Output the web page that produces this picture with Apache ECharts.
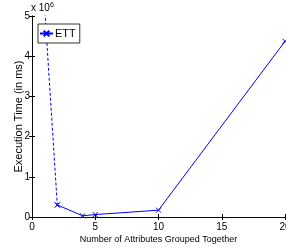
<!DOCTYPE html>
<html>
<head>
<meta charset="utf-8">
<script src="https://cdn.jsdelivr.net/npm/echarts@6/dist/echarts.min.js"></script>
<style>
  html, body { margin: 0; padding: 0; background: #fff; }
  #chart { width: 286px; height: 248px; }
</style>
</head>
<body>
<div id="chart"></div>
<script>
// attributes grouped together vs execution time (ms)
var dashedX = [1, 2];
var dashedY = [5200000, 300000];
var solidX = [2, 4, 5, 10, 20];
var solidY = [300000, 30000, 60000, 170000, 4370000];
var xTicks = [0, 5, 10, 15, 20];
var yTicks = [0, 1, 2, 3, 4, 5];

var chart = echarts.init(document.getElementById('chart'));
var font = 'Liberation Sans, Arial, sans-serif';
var narrow = 'Liberation Sans Narrow, Liberation Sans, Arial, sans-serif';
var xMark = 'path://M0,0L10,10M10,0L0,10';

function pairs(xs, ys) {
  return xs.map(function (x, i) { return [x, ys[i]]; });
}

var option = {
  animation: false,
  grid: { left: 32, right: 1, top: 16, bottom: 31, containLabel: false, outerBoundsMode: 'none' },
  legend: {
    data: ['ETT'],
    left: 38,
    top: 24,
    orient: 'vertical',
    backgroundColor: '#fff',
    borderColor: '#000',
    borderWidth: 0.8,
    borderRadius: 0,
    padding: [4, 4, 4, 1],
    itemWidth: 13,
    itemHeight: 7,
    itemGap: 2,
    textStyle: { fontFamily: narrow, fontSize: 11, color: '#000', padding: [0, 0, 0, -3] }
  },
  graphic: [{
    type: 'text',
    left: 31,
    top: 2,
    style: {
      text: 'x 10{s|6}',
      fontFamily: font,
      fontSize: 10,
      fill: '#000',
      rich: { s: { fontSize: 7, verticalAlign: 'top', padding: [0, 0, 5, 0] } }
    }
  }],
  xAxis: [{
    type: 'value',
    min: 0,
    max: 20,
    interval: 5,
    name: 'Number of Attributes Grouped Together',
    nameLocation: 'middle',
    nameGap: 18,
    nameMoveOverlap: false,
    nameTextStyle: { fontFamily: narrow, fontSize: 9, color: '#000' },
    axisLine: { lineStyle: { color: '#000', width: 0.8 } },
    axisTick: { inside: true, length: 3, lineStyle: { color: '#000' } },
    axisLabel: { fontFamily: font, fontSize: 10, color: '#000', margin: 5,
      formatter: function (v) { return xTicks.indexOf(v) >= 0 ? v : ''; } },
    splitLine: { show: false }
  }, {
    type: 'value',
    position: 'top',
    min: 0,
    max: 20,
    interval: 5,
    axisLine: { lineStyle: { color: '#000', width: 0.8 } },
    axisTick: { inside: true, length: 3, lineStyle: { color: '#000' } },
    axisLabel: { show: false },
    splitLine: { show: false }
  }],
  yAxis: [{
    type: 'value',
    min: 0,
    max: 5000000,
    interval: 1000000,
    name: 'Execution Time (in ms)',
    nameLocation: 'middle',
    nameGap: 8,
    nameMoveOverlap: false,
    nameTextStyle: { fontFamily: font, fontSize: 11, color: '#000' },
    axisLine: { show: true, lineStyle: { color: '#000', width: 0.8 } },
    axisTick: { show: true, inside: true, length: 3, lineStyle: { color: '#000' } },
    axisLabel: { fontFamily: font, fontSize: 10, color: '#000', margin: 2,
      formatter: function (v) { return yTicks[v / 1000000]; } },
    splitLine: { show: false }
  }, {
    type: 'value',
    position: 'right',
    min: 0,
    max: 5000000,
    interval: 1000000,
    axisLine: { show: true, lineStyle: { color: '#000', width: 0.8 } },
    axisTick: { show: true, inside: true, length: 3, lineStyle: { color: '#000' } },
    axisLabel: { show: false },
    splitLine: { show: false }
  }],
  series: [{
    name: 'ETT-dashed',
    type: 'line',
    clip: true,
    data: pairs(dashedX, dashedY),
    symbol: xMark,
    symbolSize: 5,
    lineStyle: { color: '#0000ff', width: 1, type: [3, 2] },
    itemStyle: { color: 'none', borderColor: '#0000ff', borderWidth: 1 }
  }, {
    name: 'ETT',
    type: 'line',
    clip: true,
    data: pairs(solidX, solidY),
    symbol: xMark,
    symbolSize: 5,
    lineStyle: { color: '#0000ff', width: 1 },
    itemStyle: { color: 'none', borderColor: '#0000ff', borderWidth: 1 }
  }]
};
chart.setOption(option);
</script>
</body>
</html>
